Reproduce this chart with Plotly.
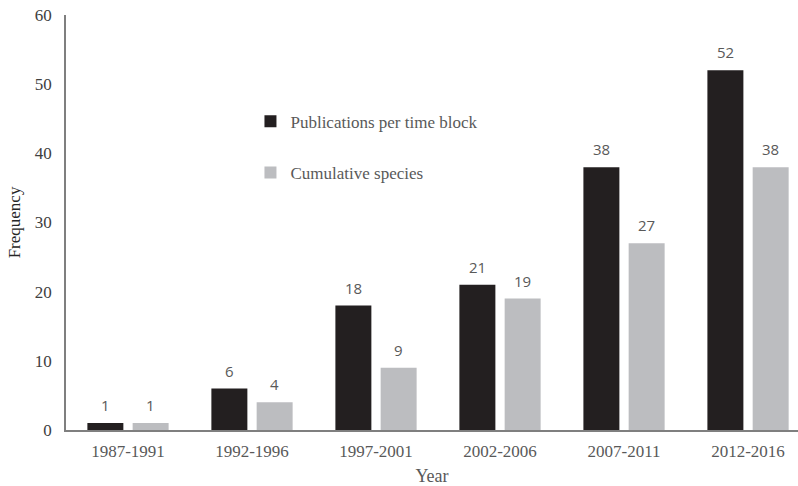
import plotly.graph_objects as go

# Time blocks and counts per block
periods = ["1987-1991", "1992-1996", "1997-2001", "2002-2006", "2007-2011", "2012-2016"]
publications = [1, 6, 18, 21, 38, 52]
cumulative_species = [1, 4, 9, 19, 27, 38]

DARK = "#231f20"
LIGHT = "#bcbdc0"
SERIF = "Liberation Serif, Times New Roman, serif"
SANS = "Open Sans, Liberation Sans, Arial, sans-serif"

fig = go.Figure()
fig.add_trace(go.Bar(
    x=periods, y=publications, name="Publications per time block",
    marker=dict(color=DARK, line=dict(width=0)), legendgroup="a",
))
fig.add_trace(go.Bar(
    x=periods, y=cumulative_species, name="Cumulative species",
    marker=dict(color=LIGHT, line=dict(width=0)), legendgroup="b",
))

# value labels above each bar
annotations = []
for series, shift in ((publications, -22.6), (cumulative_species, 22.6)):
    for cat, val in zip(periods, series):
        annotations.append(dict(
            x=cat, y=val, xref="x", yref="y", text=str(val), showarrow=False,
            xshift=shift, yshift=6, yanchor="bottom",
            font=dict(family=SANS, size=15, color="#595959"),
        ))

fig.update_layout(
    width=798, height=486,
    margin=dict(l=66, r=0, t=15, b=56),
    paper_bgcolor="white", plot_bgcolor="white",
    barmode="group", bargap=0.27, bargroupgap=0.205,
    showlegend=True,
    legend=dict(
        x=0.252, y=0.786, xanchor="left", yanchor="top",
        traceorder="grouped", tracegroupgap=26,
        font=dict(family=SERIF, size=17, color="#595959"),
        bgcolor="rgba(0,0,0,0)",
    ),
    annotations=annotations,
    xaxis=dict(
        range=[-0.5, 5.403],
        showline=True, linecolor="#7f7f7f", linewidth=1.5,
        ticks="", showgrid=False,
        tickfont=dict(family=SERIF, size=17, color="#595959"),
        ticklabelstandoff=5,
        title=dict(text="Year", font=dict(family=SERIF, size=18, color="#595959"), standoff=12),
    ),
    yaxis=dict(
        range=[0, 60], dtick=10, showline=True, linecolor="#7f7f7f", linewidth=1.5,
        ticks="", showgrid=False, zeroline=False,
        tickfont=dict(family=SERIF, size=17, color="#404040"),
        ticklabelstandoff=9,
        title=dict(text="Frequency", font=dict(family=SERIF, size=17, color="#262626"), standoff=10),
    ),
)

fig.write_html("out.html")
